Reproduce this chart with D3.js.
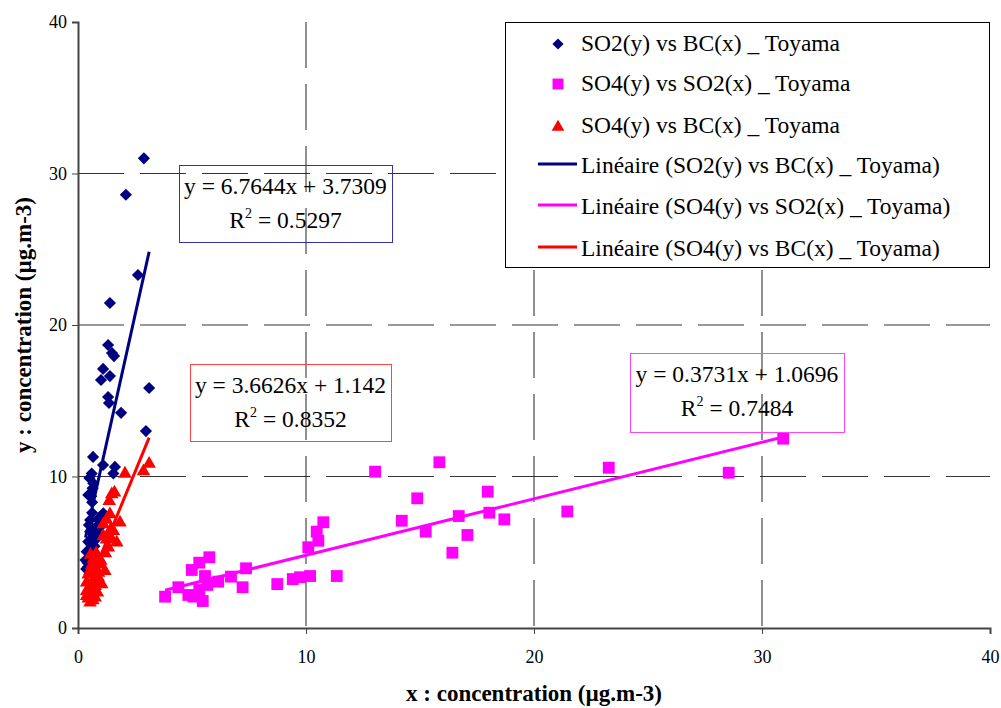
<!DOCTYPE html>
<html><head><meta charset="utf-8">
<script src="https://cdn.jsdelivr.net/npm/d3@7"></script>
<style>body{margin:0;background:#fff}svg{display:block}svg text{font-family:'Liberation Serif','Times New Roman',Tinos,serif !important}</style>
</head><body><svg id="c" width="1001" height="708"></svg>
<script>
// SO2(y) vs BC(x)
const so2bcX = [2.89,2.10,2.63,1.40,1.32,1.49,1.58,1.10,1.40,1.01,1.32,1.36,1.89,3.12,2.98,0.66,1.10,1.62,0.60,1.55,0.67,0.64,0.45,1.11,0.53,0.89,0.75,0.53,0.45,0.67,0.82,0.38,0.60,0.33,0.53,0.36,0.45,1.00,0.95,0.70,0.85,0.72,0.58,0.92,0.50,0.62,0.42,0.55,0.70,0.48,0.62,0.90,0.58];
const so2bcY = [31.0,28.6,23.3,21.45,18.68,18.15,17.95,17.1,16.63,16.37,15.25,14.85,14.2,15.84,13.0,11.29,10.76,10.63,10.2,10.2,9.55,9.22,8.78,7.57,7.13,7.13,6.58,6.36,5.7,5.7,5.92,5.04,5.15,4.49,4.6,3.9,4.05,6.9,7.3,4.9,6.2,5.4,5.5,6.6,9.9,8.3,4.3,5.6,6.0,6.8,7.6,6.8,8.7];
// SO4(y) vs SO2(x)
const so4so2X = [3.82,4.40,4.84,5.06,5.47,4.99,5.32,5.76,5.57,5.67,5.32,6.15,6.71,7.22,7.37,8.74,9.42,9.74,10.18,11.35,10.10,10.54,10.47,10.76,13.03,15.85,14.88,14.20,17.97,15.25,16.70,18.04,18.70,17.08,16.42,21.46,23.28,28.54,30.93];
const so4so2Y = [2.07,2.69,2.18,2.07,1.78,3.83,4.31,4.67,3.43,2.84,2.51,3.06,3.39,2.69,3.94,2.90,3.23,3.35,3.43,3.43,5.33,5.76,6.36,6.98,10.32,10.94,8.56,7.08,9.00,6.36,7.39,7.61,7.17,6.14,4.97,7.69,10.58,10.25,12.50];
// SO4(y) vs BC(x)
const so4bcX = [3.12,2.87,2.06,1.48,1.37,1.40,1.84,1.11,1.55,1.11,1.70,1.33,0.67,0.96,1.18,0.53,0.89,0.38,0.75,1.04,0.38,0.75,0.53,0.38,0.60,1.60,1.25,0.80,0.55,0.45,0.65,1.45,0.45,0.65,0.85,0.50,0.70,0.90,1.00,1.20,0.60,0.80,1.30,1.45,1.25];
const so4bcY = [10.9,10.4,10.25,8.89,8.45,7.57,7.02,6.91,6.47,6.14,5.7,5.37,4.6,4.27,3.83,3.83,3.39,3.06,2.84,2.95,2.51,2.07,1.74,2.18,2.29,9.0,7.2,5.0,4.9,3.6,3.1,6.0,2.0,1.9,2.4,2.6,3.2,3.7,4.5,5.0,4.2,4.4,6.2,6.6,5.9];
// trend lines: [slope, intercept, R2]
const trendSO2BC = [6.7644, 3.7309, 0.5297];
const trendSO4SO2 = [0.3731, 1.0696, 0.7484];
const trendSO4BC = [3.6626, 1.142, 0.8352];
const xTicks = [0,10,20,30,40];
const yTicks = [0,10,20,30,40];
const legendLabels = ["SO2(y) vs BC(x) _ Toyama","SO4(y) vs SO2(x) _ Toyama","SO4(y) vs BC(x) _ Toyama","Linéaire (SO2(y) vs BC(x) _ Toyama)","Linéaire (SO4(y) vs SO2(x) _ Toyama)","Linéaire (SO4(y) vs BC(x) _ Toyama)"];

const FONT = "Liberation Serif";
const NAVY="#000080", PINK="#FF00FF", RED="#FF0000";
const svg = d3.select("#c");
const x = d3.scaleLinear().domain([0,40]).range([78,990]);
const y = d3.scaleLinear().domain([0,40]).range([628,22]);

// grid
const g = svg.append("g");
g.selectAll("line.h").data([10,20,30]).join("line")
  .attr("x1",x(0)).attr("x2",x(40)).attr("y1",d=>y(d)).attr("y2",d=>y(d))
  .attr("stroke","#333").attr("stroke-width",1).attr("stroke-dasharray","46,16");
g.selectAll("line.v").data([10,20,30]).join("line")
  .attr("y1",y(40)).attr("y2",y(0)).attr("x1",d=>x(d)).attr("x2",d=>x(d))
  .attr("stroke","#222").attr("stroke-width",1).attr("stroke-dasharray","46,16");

// axes
const xa = svg.append("g").attr("transform",`translate(0,${y(0)})`)
  .call(d3.axisBottom(x).tickValues(xTicks).tickSize(6).tickPadding(16).tickFormat(d3.format("d")));
const ya = svg.append("g").attr("transform",`translate(${x(0)},0)`)
  .call(d3.axisLeft(y).tickValues(yTicks).tickSize(6).tickPadding(5).tickFormat(d3.format("d")));
[xa,ya].forEach(a=>{
  a.attr("font-family",FONT);
  a.select(".domain").attr("stroke","#444").attr("stroke-width",2);
  a.selectAll(".tick line").attr("stroke","#444");
  a.selectAll("text").attr("font-size",18).attr("fill","#000");
});

// markers
const diamond = d3.symbol().type(d3.symbolSquare).size(74);
const square = d3.symbol().type(d3.symbolSquare).size(140);
const tri = d3.symbol().type(d3.symbolTriangle).size(80);
svg.append("g").selectAll("path").data(d3.zip(so2bcX,so2bcY)).join("path")
  .attr("d",diamond).attr("fill",NAVY)
  .attr("transform",d=>`translate(${x(d[0])},${y(d[1])}) rotate(45)`);
svg.append("g").selectAll("path").data(d3.zip(so4so2X,so4so2Y)).join("path")
  .attr("d",square).attr("fill",PINK)
  .attr("transform",d=>`translate(${x(d[0])},${y(d[1])})`);
svg.append("g").selectAll("path").data(d3.zip(so4bcX,so4bcY)).join("path")
  .attr("d",tri).attr("fill",RED)
  .attr("transform",d=>`translate(${x(d[0])},${y(d[1]) + 1})`);

// trend lines
function trend(xs, t, color){
  const [a,b] = t;
  const ext = d3.extent(xs);
  svg.append("line").attr("x1",x(ext[0])).attr("x2",x(ext[1]))
    .attr("y1",y(a*ext[0]+b)).attr("y2",y(a*ext[1]+b))
    .attr("stroke",color).attr("stroke-width",3);
}
trend(so2bcX, trendSO2BC, NAVY);
trend(so4so2X, trendSO4SO2, PINK);
trend(so4bcX, trendSO4BC, RED);

// equation boxes
function eqBox(x0,y0,w,h,t,border){
  const gg = svg.append("g").attr("font-family",FONT);
  gg.append("rect").attr("x",x0+0.5).attr("y",y0+0.5).attr("width",w).attr("height",h)
    .attr("fill","none").attr("stroke",border).attr("stroke-width",1);
  const cx = x0 + w/2;
  const sign = t[1] >= 0 ? "+" : "-";
  gg.append("text").attr("x",cx).attr("y",y0+29).attr("text-anchor","middle")
    .attr("font-size",23.5).text(`y = ${t[0]}x ${sign} ${Math.abs(t[1])}`);
  const r = gg.append("text").attr("x",cx).attr("y",y0+63).attr("text-anchor","middle").attr("font-size",23.5);
  r.append("tspan").text("R");
  r.append("tspan").attr("dy",-10).attr("font-size",14).text("2");
  r.append("tspan").attr("dy",10).text(` = ${t[2]}`);
}
eqBox(179,165,213,77,trendSO2BC,"#3333AA");
eqBox(190,364,201,77,trendSO4BC,"#FF4444");
eqBox(630,353,214,79,trendSO4SO2,"#FF44FF");

// legend
const lg = svg.append("g").attr("font-family",FONT);
lg.append("rect").attr("x",505.5).attr("y",22.5).attr("width",484).attr("height",245)
  .attr("fill","#fff").attr("stroke","#000").attr("stroke-width",1);
const rowsY = [44,84,126,164,205,247];
const baseY = [51,91,133,173,214,256];
const colors = [NAVY,PINK,RED,NAVY,PINK,RED];
rowsY.forEach((ry,i)=>{
  if(i===0) lg.append("path").attr("d",d3.symbol().type(d3.symbolSquare).size(62)).attr("fill",NAVY).attr("transform",`translate(558,${ry}) rotate(45)`);
  else if(i===1) lg.append("path").attr("d",d3.symbol().type(d3.symbolSquare).size(120)).attr("fill",PINK).attr("transform",`translate(558,${ry})`);
  else if(i===2) lg.append("path").attr("d",d3.symbol().type(d3.symbolTriangle).size(70)).attr("fill",RED).attr("transform",`translate(558,${ry+1})`);
  else lg.append("line").attr("x1",538).attr("x2",577).attr("y1",ry).attr("y2",ry).attr("stroke",colors[i]).attr("stroke-width",3);
  lg.append("text").attr("x",581).attr("y",baseY[i]).attr("font-size",23.5).text(legendLabels[i]);
});

// axis titles
svg.append("text").attr("x",x(20)).attr("y",701).attr("text-anchor","middle").attr("font-family",FONT)
  .attr("font-size",23).attr("font-weight","bold").text("x : concentration (µg.m-3)");
svg.append("text").attr("transform",`translate(31,${y(20)}) rotate(-90)`).attr("text-anchor","middle").attr("font-family",FONT)
  .attr("font-size",23).attr("font-weight","bold").text("y : concentration (µg.m-3)");
</script></body></html>
